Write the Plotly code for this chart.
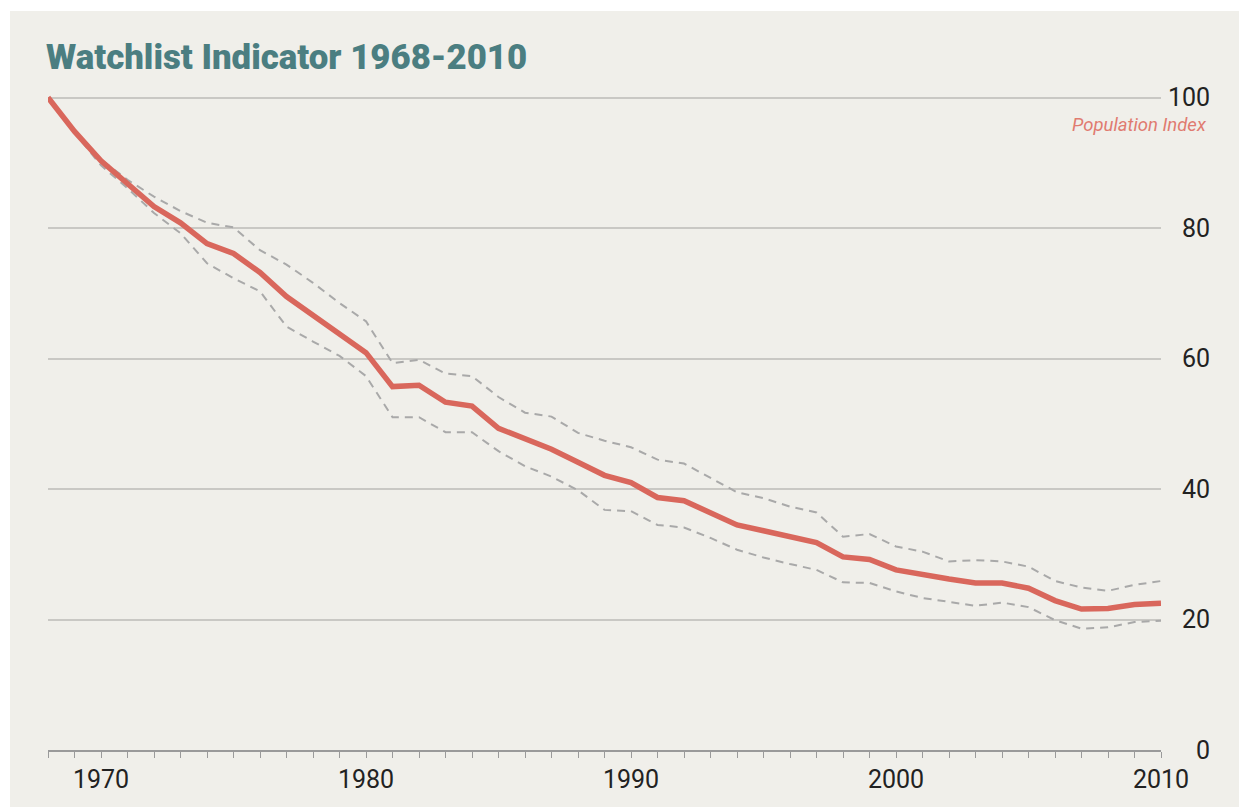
import plotly.graph_objects as go

years = list(range(1968, 2011))

index_main = [100.0, 94.8, 90.3, 86.7, 83.3, 80.8, 77.6, 76.1, 73.2, 69.5,
              66.7, 63.8, 60.9, 55.7, 55.9, 53.3, 52.7, 49.3, 47.6, 46.1,
              44.1, 42.1, 41.0, 38.7, 38.2, 36.4, 34.5, 33.6, 32.6, 31.8,
              29.6, 29.2, 27.6, 26.8, 26.2, 25.6, 25.6, 24.8, 22.9, 21.6,
              21.7, 22.3, 22.5]

upper_ci = [100.0, 95.0, 90.5, 87.4, 84.8, 82.6, 80.8, 80.1, 76.6, 74.4,
            71.6, 68.5, 65.7, 59.3, 59.8, 57.7, 57.3, 54.1, 51.7, 51.1,
            48.6, 47.4, 46.4, 44.5, 43.9, 41.7, 39.5, 38.6, 37.3, 36.4,
            32.7, 33.1, 31.2, 30.4, 28.9, 29.1, 28.9, 28.1, 25.9, 24.9,
            24.4, 25.3, 25.9]

lower_ci = [100.0, 94.6, 89.6, 86.1, 82.3, 79.2, 74.6, 72.3, 70.3, 64.9,
            62.6, 60.4, 57.3, 51.0, 51.0, 48.7, 48.7, 45.8, 43.5, 41.9,
            39.8, 36.8, 36.6, 34.5, 34.1, 32.5, 30.7, 29.5, 28.5, 27.6,
            25.7, 25.6, 24.3, 23.3, 22.7, 22.1, 22.6, 21.9, 19.9, 18.6,
            18.8, 19.6, 19.8]

y_ticks = [0, 20, 40, 60, 80, 100]
x_ticks = [1970, 1980, 1990, 2000, 2010]

title_text = "Watchlist Indicator 1968-2010"
y_label = "Population Index"

BG = "#F0EFEA"
RED = "#D9675C"
GREY = "#A9A9A9"
TEAL = "#4B7E81"

fig = go.Figure()
fig.add_trace(go.Scatter(x=years, y=upper_ci, mode="lines",
                         line=dict(color=GREY, width=2, dash="8px,6px"),
                         hoverinfo="skip", showlegend=False))
fig.add_trace(go.Scatter(x=years, y=lower_ci, mode="lines",
                         line=dict(color=GREY, width=2, dash="8px,6px"),
                         hoverinfo="skip", showlegend=False))
fig.add_trace(go.Scatter(x=years, y=index_main, mode="lines",
                         line=dict(color=RED, width=5.5),
                         showlegend=False))

# the page adds an 8px body margin, so layout coordinates are offset by -8
OFF = 8
W, H = 1247, 807
L, R, T, B = 48 - OFF, 1247 - (1161 - OFF), 91 - OFF, 807 - (750 - OFF)
pw, ph = W - L - R, H - T - B

# beige card behind the chart (white strip at top/left)
fig.add_shape(type="rect", xref="paper", yref="paper", layer="below",
              x0=(10 - OFF - L) / pw, x1=(W - L) / pw,
              y0=-(B + 20) / ph, y1=1 + (T - (11 - OFF)) / ph,
              fillcolor=BG, line=dict(width=0))

maxlen = max(len(str(v)) for v in y_ticks)
y_ticktext = ["\u2007" * (maxlen - len(str(v))) + str(v) for v in y_ticks]

fig.update_layout(
    width=W, height=H,
    margin=dict(l=L, r=R, t=T, b=B),
    paper_bgcolor="white",
    plot_bgcolor=BG,
    font=dict(family="Roboto", color="#222222"),
    title=dict(text=title_text, xref="container", yref="container",
               x=(46 - OFF) / W, xanchor="left", y=1 - (57 - OFF) / H, yanchor="middle",
               font=dict(family="Roboto", size=34.8, color=TEAL, weight=900)),
    xaxis=dict(range=[1968, 2010], tickvals=x_ticks, ticks="outside",
               ticklen=6, tickcolor="#9A9A9A", tickwidth=1,
               minor=dict(dtick=1, tick0=1968, ticks="outside", ticklen=6,
                          tickcolor="#9A9A9A", tickwidth=1, showgrid=False),
               showline=True, linecolor="#9A9A9A", linewidth=2,
               showgrid=False, zeroline=False,
               tickfont=dict(size=25, color="#222222", family="Roboto")),
    yaxis=dict(range=[0, 101], side="right", tickvals=y_ticks, ticktext=y_ticktext,
               showgrid=True, gridcolor="#C9C8C4", gridwidth=2,
               zeroline=False, showline=False, ticks="",
               ticklabelstandoff=6,
               tickfont=dict(size=25, color="#222222", family="Roboto")),
)

fig.add_annotation(text="<i>" + y_label + "</i>", xref="paper", yref="y",
                   x=(1209 - OFF - L) / pw, y=95.8, xanchor="right", yanchor="middle",
                   showarrow=False,
                   font=dict(family="Roboto", size=18.5, color="#E07B70"))

fig.write_html("out.html")
